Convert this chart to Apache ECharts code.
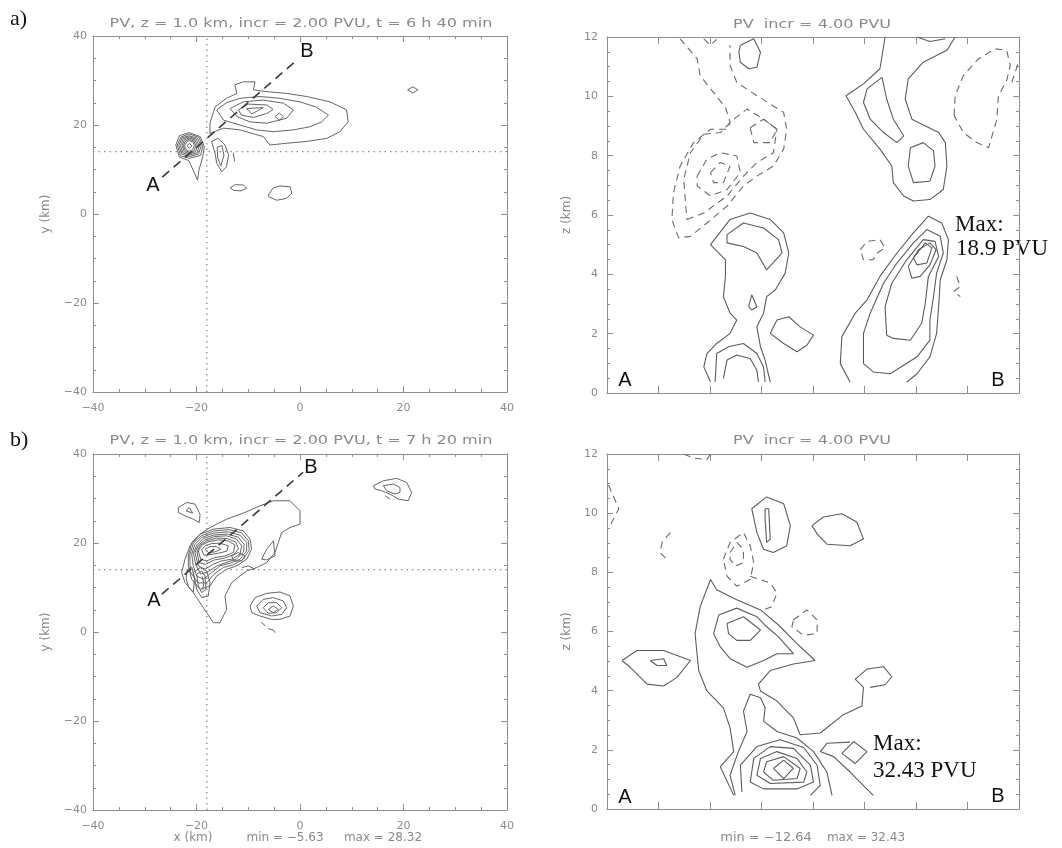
<!DOCTYPE html>
<html>
<head>
<meta charset="utf-8">
<script src="https://cdn.jsdelivr.net/npm/echarts@6/dist/echarts.min.js"></script>
<style>
  html, body { margin: 0; padding: 0; background: #fff; }
  #chart { width: 1062px; height: 848px; }
</style>
</head>
<body>
<div id="chart"></div>
<script>
// ---------- panel texts ----------
const panelTags = ['a)', 'b)'];
const planTitles = ['PV, z = 1.0 km, incr = 2.00 PVU, t = 6 h 40 min',
                    'PV, z = 1.0 km, incr = 2.00 PVU, t = 7 h 20 min'];
const sectionTitle = 'PV  incr = 4.00 PVU';
const maxNotes = [['Max:', '18.9 PVU'], ['Max:', '32.43 PVU']];
const planStats = ['x (km)', 'min = \u22125.63', 'max = 28.32'];
const sectionStats = ['min = \u221212.64', 'max = 32.43'];

// ---------- axis ranges (km) ----------
const planRange = [-40, 40];
const planStep = 20;
const sectionXRange = [0, 8];
const sectionZRange = [0, 12];
const sectionZStep = 2;

// ---------- horizontal sections at z = 1 km: guide lines and cut A-B ----------
const planGuideX = -18;      // dotted vertical
const planGuideY = 14;       // dotted horizontal
const cutA = [[-26.6, 8.3], [-0.4, 34.8]];
const cutB = [[-26.7, 8.5], [0.6, 35.9]];

// ---------- contours, 6 h 40 min, plan view (closed loops) ----------
const planA_loops = [
  [[-17.4,20.4],[-16.4,24.1],[-14.2,26.0],[-12.2,27.1],[-12.6,29.0],[-11.0,29.7],[-8.7,29.7],[-9.0,27.9],[-6.4,27.5],[-2.6,27.1],[1.3,26.4],[5.8,25.2],[9.0,23.4],[9.3,20.7],[7.7,18.5],[5.2,17.0],[1.3,16.3],[-2.6,15.9],[-5.8,15.5],[-7.1,17.4],[-11.6,18.9],[-14.8,19.3],[-17.4,18.1]],
  [[-16.1,23.4],[-14.2,25.0],[-11.6,26.0],[-7.7,26.4],[-3.9,26.0],[0,25.2],[3.2,24.0],[5.5,22.2],[4.2,20.7],[1.9,19.6],[-1.3,18.9],[-5.2,18.5],[-8.4,18.9],[-11.6,20.0],[-14.8,21.1]],
  [[-13.5,23.7],[-11.0,25.2],[-7.1,25.6],[-3.2,24.9],[-1.3,23.4],[-2.6,21.5],[-6.4,20.4],[-9.7,20.7],[-12.2,21.9]],
  [[-11.9,23.4],[-10.0,24.7],[-6.4,24.5],[-5.2,23.5],[-6.4,22.6],[-9.0,21.7],[-11.3,22.2]],
  [[-10.3,23.7],[-7.1,23.9],[-9.3,22.5]],
  [[-4.8,21.9],[-4.0,22.7],[-3.2,21.9],[-4.0,21.1]],
  [[-24.0,15.5],[-23.3,17.6],[-21.4,18.3],[-19.3,17.4],[-18.5,15.2],[-18.8,12.8],[-19.5,10.0],[-19.8,7.6],[-20.5,9.5],[-21.5,12.0],[-23.3,12.8]],
  [[-23.7,15.5],[-23.0,17.3],[-21.4,18.0],[-19.5,17.2],[-18.8,15.2],[-19.2,13.2],[-21.4,12.5],[-23.1,13.1]],
  [[-23.4,15.4],[-22.8,17.1],[-21.4,17.6],[-19.8,17.0],[-19.1,15.3],[-19.6,13.5],[-21.4,12.9],[-22.9,13.5]],
  [[-23.1,15.4],[-22.55,16.9],[-21.4,17.35],[-20.05,16.8],[-19.45,15.3],[-19.9,13.75],[-21.4,13.2],[-22.65,13.75]],
  [[-22.8,15.4],[-22.3,16.7],[-21.4,17.1],[-20.3,16.6],[-19.8,15.3],[-20.2,14.0],[-21.4,13.5],[-22.4,14.0]],
  [[-22.55,15.35],[-22.1,16.45],[-21.4,16.8],[-20.5,16.4],[-20.1,15.3],[-20.45,14.25],[-21.4,13.8],[-22.2,14.25]],
  [[-22.3,15.3],[-21.9,16.2],[-21.4,16.5],[-20.7,16.2],[-20.4,15.3],[-20.7,14.5],[-21.4,14.1],[-22.0,14.5]],
  [[-21.8,15.3],[-21.4,15.9],[-20.9,15.3],[-21.4,14.7]],
  [[-17.1,16.3],[-15.8,17.0],[-14.5,15.5],[-13.8,13.3],[-14.2,10.6],[-15.1,9.5],[-16.1,11.4],[-16.4,13.6]],
  [[-16.0,15.0],[-15.1,15.4],[-14.7,13.2],[-15.3,10.8],[-15.9,12.6]],
  [[-13.5,5.9],[-12.5,6.6],[-10.9,6.5],[-10.3,5.8],[-11.4,5.2],[-12.8,5.3]],
  [[-6.1,4.3],[-5.2,5.8],[-3.9,6.3],[-1.9,6.1],[-1.6,4.7],[-2.6,3.5],[-4.5,3.1],[-6.1,3.9]],
  [[20.8,27.9],[21.8,28.6],[22.8,27.9],[21.8,27.2]]
];
const planA_paths = [
  [[-12.9,13.8],[-12.6,11.8]]
];

// ---------- contours, 7 h 20 min, plan view ----------
const planB_loops = [
  [[-17.39,23.48],[-14.17,25.36],[-10.95,26.71],[-7.73,28.36],[-5.15,29.49],[-1.93,29.49],[0,27.24],[0,24.23],[-1.93,23.48],[-3.54,22.36],[-4.19,20.11],[-4.83,17.85],[-6.44,15.60],[-8.37,14.47],[-10.31,13.72],[-11.59,12.60],[-13.20,11.10],[-14.49,8.09],[-14.17,5.09],[-15.46,2.09],[-16.75,2.09],[-18.04,4.34],[-19.32,6.59],[-20.61,8.84],[-22.22,11.10],[-22.87,13.35],[-22.22,16.35],[-21.26,19.35],[-19.32,21.98]],
  [[-7.41,16.35],[-6.44,18.60],[-5.15,20.48],[-4.83,17.10],[-6.44,16.20]],
  [[-21.58,17.10],[-20.93,20.11],[-19.32,21.98],[-16.75,23.11],[-13.53,23.48],[-10.95,22.73],[-9.66,20.86],[-9.34,18.60],[-10.31,16.35],[-12.24,14.85],[-14.17,14.10],[-16.10,12.60],[-17.39,10.35],[-19.32,9.59],[-20.93,11.85],[-21.58,14.85]],
  [[-21.3,17.3],[-20.6,20.0],[-19.1,21.6],[-16.7,22.7],[-13.7,23.0],[-11.3,22.3],[-10.0,20.5],[-9.8,18.4],[-11.0,16.3],[-12.9,15.1],[-14.8,14.5],[-16.6,13.0],[-18.0,11.1],[-19.7,11.0],[-21.2,13.5]],
  [[-20.93,17.48],[-20.29,19.73],[-19.00,21.23],[-16.75,22.21],[-13.85,22.51],[-11.59,21.76],[-10.31,20.11],[-10.31,18.23],[-11.59,16.35],[-13.53,15.45],[-15.46,14.85],[-17.07,13.35],[-18.68,11.85],[-19.97,12.60],[-20.61,14.85]],
  [[-20.6,17.7],[-19.9,19.6],[-18.7,21.0],[-16.6,21.8],[-14.0,22.0],[-11.9,21.3],[-10.8,19.7],[-10.9,18.0],[-12.3,16.4],[-14.3,15.6],[-16.0,14.9],[-17.7,13.6],[-19.2,13.0],[-20.1,15.0]],
  [[-20.29,17.85],[-19.65,19.50],[-18.36,20.71],[-16.43,21.46],[-14.17,21.61],[-12.24,20.86],[-11.27,19.35],[-11.59,17.48],[-13.20,16.35],[-15.14,15.98],[-16.75,15.23],[-18.36,14.10],[-19.65,14.85]],
  [[-19.9,18.0],[-19.3,19.5],[-18.0,20.5],[-16.1,21.1],[-14.0,21.0],[-12.4,20.2],[-11.9,18.7],[-12.8,17.4],[-14.6,16.6],[-16.5,16.2],[-18.3,15.2],[-19.5,15.6]],
  [[-19.65,18.23],[-19.00,19.50],[-17.71,20.26],[-15.78,20.71],[-13.85,20.48],[-12.56,19.50],[-12.88,17.85],[-14.49,17.10],[-16.43,16.73],[-18.04,15.98],[-19.19,16.35]],
  [[-19.00,18.45],[-18.36,19.35],[-17.07,19.88],[-15.46,19.95],[-13.85,19.35],[-14.17,18.15],[-15.78,17.70],[-17.39,17.40],[-18.55,17.25]],
  [[-18.36,18.60],[-17.39,19.20],[-16.10,19.20],[-15.33,18.60],[-16.43,18.00],[-17.71,17.85]],
  [[-20.61,13.35],[-19.32,14.47],[-18.04,13.72],[-17.39,11.10],[-17.71,8.09],[-19.00,7.72],[-19.97,9.59]],
  [[-19.97,12.97],[-19.00,13.72],[-18.36,12.60],[-18.16,9.59],[-19.00,8.84],[-19.65,10.35]],
  [[-21.8,14.0],[-20.9,14.6],[-20.4,12.0],[-20.6,9.0],[-21.5,10.0],[-22.0,12.0]],
  [[-13.20,17.10],[-11.92,17.85],[-10.63,17.10],[-11.27,15.98],[-12.88,15.98]],
  [[-23.51,27.99],[-21.90,29.11],[-20.29,28.74],[-19.32,26.49],[-19.45,24.61],[-20.61,25.36],[-22.22,26.11],[-23.51,26.86]],
  [[-22.03,27.24],[-21.38,27.99],[-20.74,26.71]],
  [[-9.66,5.84],[-8.70,7.72],[-6.44,8.69],[-3.86,8.99],[-1.93,8.09],[-1.29,5.84],[-1.93,3.59],[-3.86,2.84],[-5.48,2.84],[-7.73,3.59],[-9.34,4.34]],
  [[-8.37,5.84],[-7.09,7.34],[-5.15,7.72],[-3.22,6.97],[-2.58,5.47],[-3.54,3.96],[-5.48,3.59],[-7.73,4.34]],
  [[-7.09,5.47],[-6.12,6.59],[-4.51,6.59],[-3.54,5.47],[-4.51,4.34],[-6.12,4.19]],
  [[-6.12,5.09],[-5.15,5.84],[-4.19,5.09],[-5.15,4.34]],
  [[14.17,32.87],[16.10,33.99],[18.68,34.52],[20.61,33.62],[21.58,31.37],[20.93,29.49],[19.00,29.86],[17.39,30.99],[15.78,31.74],[14.49,32.12]],
  [[16.10,32.87],[18.04,33.24],[19.32,32.49],[19.32,31.37],[18.36,30.99],[16.75,31.74]]
];
const planB_paths = [
  [[-11.27,14.47],[-9.98,14.85],[-8.70,14.10]],
  [[-18.9,12.5],[-18.6,11.0],[-18.8,9.5]],
  [[-7.41,2.24],[-6.76,1.34]],
  [[-6.12,0.74],[-5.15,0.44],[-4.83,-0.17]],
  [[16.43,30.62],[17.39,29.86]]
];

// ---------- contours, 6 h 40 min, vertical section A-B (x: along cut, z: km) ----------
const sectA_solidLoops = [
  [[5.05,10.25],[5.34,10.64],[5.43,9.91],[5.56,9.23],[5.76,8.67],[5.63,8.44],[5.37,8.78],[5.11,9.23],[4.98,9.80]],
  [[5.89,8.27],[6.14,8.44],[6.34,8.16],[6.37,7.65],[6.27,7.14],[5.95,7.09],[5.85,7.65]],
  [[4.98,0.99],[4.98,2.01],[5.11,2.69],[5.37,3.70],[5.63,4.38],[5.95,5.06],[6.21,5.51],[6.47,5.28],[6.53,4.72],[6.40,4.04],[6.34,3.25],[6.27,2.46],[6.27,1.78],[6.02,1.22],[5.50,0.65],[5.17,0.71]],
  [[5.43,1.95],[5.40,2.91],[5.53,3.70],[5.82,4.49],[6.14,5.17],[6.37,5.11],[6.44,4.60],[6.24,3.93],[6.18,3.02],[6.11,2.35],[5.89,1.78],[5.56,1.84]],
  [[5.85,4.27],[6.05,4.83],[6.27,5.06],[6.39,4.83],[6.27,4.32],[6.08,3.93],[5.92,3.87]],
  [[5.95,4.55],[6.18,5.06],[6.31,4.89],[6.21,4.38],[6.02,4.32]],
  [[2.33,5.34],[2.65,5.73],[3.04,5.56],[3.33,5.17],[3.40,4.72],[3.10,4.15],[2.91,4.72],[2.65,4.94],[2.33,5.06]],
  [[2.75,2.91],[2.81,3.31],[2.91,2.91],[2.81,2.80]],
  [[3.17,2.01],[3.30,2.46],[3.53,2.57],[3.75,2.23],[4.01,1.95],[3.88,1.61],[3.69,1.39],[3.43,1.67]],
  [[2.59,11.72],[2.85,11.94],[2.98,11.49],[2.91,10.98],[2.75,10.93],[2.59,11.15],[2.56,11.49]]
];
const sectA_solidPaths = [
  [[5.40,12.0],[5.30,10.93],[4.98,10.42],[4.64,10.02],[4.82,9.46],[4.98,8.89],[5.30,8.22],[5.53,7.65],[5.56,7.09],[5.76,6.64],[5.95,6.47],[6.27,6.52],[6.53,6.86],[6.60,7.65],[6.57,8.44],[6.44,8.78],[5.92,9.23],[5.79,9.91],[5.85,10.59],[6.14,11.15],[6.60,11.55],[6.76,12.0]],
  [[6.02,12.0],[6.27,11.85],[6.57,11.94]],
  [[4.72,0.37],[4.53,0.99],[4.56,1.90],[4.82,2.69],[5.05,3.14],[5.30,3.93],[5.63,4.72],[5.95,5.40],[6.24,5.96],[6.50,5.73],[6.63,5.17],[6.60,4.49],[6.47,3.81],[6.44,2.91],[6.40,2.01],[6.27,1.22],[6.02,0.65],[5.82,0.37]],
  [[2.01,0.37],[1.88,0.88],[1.94,1.33],[2.13,1.67],[2.39,2.01],[2.52,2.46],[2.39,2.69],[2.26,3.25],[2.30,3.93],[2.30,4.49],[2.01,5.00],[2.39,5.85],[2.78,6.07],[3.17,5.85],[3.43,5.40],[3.53,4.72],[3.46,4.04],[3.27,3.48],[3.10,3.25],[3.04,2.69],[2.91,2.23],[2.98,1.56],[3.07,1.11],[3.17,0.37]],
  [[2.10,0.37],[2.13,1.33],[2.36,1.56],[2.65,1.67],[2.91,1.33],[3.04,0.88],[3.07,0.37]],
  [[2.26,0.49],[2.33,1.11],[2.52,1.28],[2.78,1.16],[2.91,0.77],[2.94,0.37]]
];
const sectA_dashLoops = [
  [[6.74,9.35],[6.76,10.02],[6.92,10.70],[7.21,11.26],[7.54,11.60],[7.76,11.55],[7.83,11.04],[7.76,10.53],[7.60,10.02],[7.57,9.23],[7.41,8.27],[7.18,8.44],[6.92,8.78]],
  [[4.92,4.83],[5.05,5.11],[5.30,5.17],[5.40,4.89],[5.24,4.72],[5.17,4.49],[4.98,4.49]],
  [[1.55,5.85],[1.88,6.07],[2.33,6.64],[2.65,7.31],[2.91,7.77],[3.23,8.10],[3.30,8.89],[3.04,9.23],[2.72,9.57],[2.46,9.23],[2.20,8.78],[1.88,8.72],[1.62,8.10],[1.49,7.20]],
  [[1.75,7.31],[1.94,7.88],[2.20,8.10],[2.52,7.99],[2.59,7.43],[2.33,6.86],[2.01,6.64],[1.75,6.98]],
  [[2.01,7.43],[2.20,7.77],[2.39,7.65],[2.26,7.09],[2.07,7.09]],
  [[2.78,8.94],[3.04,9.23],[3.30,8.89],[3.17,8.44],[2.85,8.44]]
];
const sectA_dashPaths = [
  [[1.42,11.94],[1.75,11.26],[1.81,10.70],[2.04,10.19],[2.30,9.63],[2.39,9.12],[2.33,8.89],[2.01,8.89],[1.68,8.44],[1.42,7.65],[1.29,6.75],[1.26,5.85],[1.39,5.23],[1.62,5.28],[1.94,5.73],[2.33,6.30],[2.65,6.98],[2.91,7.31],[3.23,7.65],[3.43,8.22],[3.49,8.89],[3.43,9.46],[3.17,9.74],[2.91,10.02],[2.52,10.47],[2.39,11.04],[2.39,11.72]],
  [[7.86,10.47],[7.99,11.15]],
  [[6.79,3.93],[6.86,3.59],[6.73,3.42],[6.86,3.25]],
  [[1.88,11.94],[2.01,11.72],[2.13,11.92]]
];

// ---------- contours, 7 h 20 min, vertical section A-B ----------
const sectB_solidLoops = [
  [[0.29,5.02],[0.58,5.36],[1.10,5.36],[1.62,5.02],[1.36,4.45],[1.10,4.16],[0.78,4.22],[0.45,4.79]],
  [[0.84,5.02],[1.10,5.08],[1.16,4.85],[0.97,4.85]],
  [[2.07,5.93],[2.17,6.56],[2.52,6.79],[2.91,6.50],[3.10,6.16],[3.33,5.82],[3.62,5.25],[3.30,5.25],[3.04,5.02],[2.72,4.79],[2.39,5.08],[2.20,5.48]],
  [[2.33,6.27],[2.65,6.50],[2.98,6.05],[2.78,5.70],[2.52,5.70],[2.36,5.93]],
  [[2.78,0.91],[2.85,1.71],[3.17,2.11],[3.62,2.05],[3.95,1.48],[4.01,0.91],[3.69,0.68],[3.04,0.68]],
  [[2.91,1.14],[2.98,1.71],[3.30,1.94],[3.69,1.71],[3.88,1.25],[3.82,0.91],[3.17,0.86]],
  [[3.04,1.25],[3.10,1.60],[3.43,1.77],[3.75,1.37],[3.69,1.03],[3.23,0.97]],
  [[3.23,1.37],[3.43,1.65],[3.62,1.37],[3.43,1.03]],
  [[4.56,1.88],[4.79,2.28],[5.05,1.94],[4.82,1.54]],
  [[2.81,10.15],[3.10,10.55],[3.43,10.32],[3.56,9.58],[3.49,8.90],[3.23,8.67],[3.04,8.78],[2.91,9.35]],
  [[3.07,10.15],[3.14,10.15],[3.17,9.12],[3.10,9.01],[3.07,9.80]],
  [[3.98,9.58],[4.20,9.87],[4.56,9.98],[4.85,9.70],[4.98,9.13],[4.72,8.90],[4.27,8.95],[4.08,9.30]]
];
const sectB_solidPaths = [
  [[2.46,0.46],[2.20,1.43],[2.46,1.94],[2.39,2.74],[2.26,3.42],[1.94,3.99],[1.78,4.68],[1.71,5.93],[1.81,6.84],[2.01,7.76],[2.13,7.41],[2.52,7.07],[2.98,6.73],[3.33,6.22],[3.69,5.59],[4.04,5.02],[3.62,4.90],[3.17,4.68],[2.94,4.22],[2.98,3.99],[3.30,3.65],[3.62,3.08],[3.75,2.51],[4.14,2.57],[4.59,3.19],[4.95,3.48],[4.98,4.11],[4.82,4.39],[5.05,4.73],[5.37,4.81],[5.53,4.47],[5.40,4.20],[5.11,4.11]],
  [[4.72,2.26],[4.27,2.22],[4.14,1.94],[4.40,1.77],[4.72,1.25],[5.17,0.46]],
  [[2.49,0.46],[2.39,1.14],[2.55,1.94],[2.72,2.62],[2.65,3.31],[2.78,3.88],[2.98,3.76],[3.07,3.42],[3.04,2.97],[3.30,2.62],[3.69,2.40],[4.01,1.94],[4.27,1.25],[4.37,0.46]],
  [[2.62,0.57],[2.59,1.48],[2.91,2.11],[3.36,2.34],[3.82,2.08],[4.08,1.48],[4.14,0.80],[3.95,0.46]]
];
const sectB_dashLoops = [
  [[2.26,8.44],[2.39,9.01],[2.65,9.35],[2.78,8.90],[2.85,8.33],[2.78,7.76],[2.52,7.53],[2.33,7.87]],
  [[2.39,8.67],[2.52,9.01],[2.65,8.78],[2.65,8.33],[2.49,8.21],[2.39,8.44]],
  [[3.62,6.39],[3.88,6.73],[4.08,6.39],[4.08,5.93],[3.82,5.87],[3.59,6.16]]
];
const sectB_dashPaths = [
  [[2.78,7.87],[3.17,7.64],[3.30,7.30],[3.20,6.84],[3.04,6.73]],
  [[1.23,9.35],[1.07,9.01],[1.03,8.67],[1.16,8.44]],
  [[1.49,12.0],[1.68,11.86],[1.94,11.81],[2.01,12.0]],
  [[0.03,10.95],[0.23,10.15],[0.06,9.58]]
];

// ---------- styling ----------
const FRAME = '#8e8e8e';
const LABEL = '#8a8a8a';
const INK = '#5c5c5c';
const TICK_FONT = 'DejaVu Sans';

// panel boxes (left, top, width, height)
const boxes = [
  { left: 93, top: 36, width: 414, height: 356 },   // a, plan
  { left: 607, top: 37, width: 412, height: 356 },  // a, section
  { left: 93, top: 454, width: 414, height: 356 },  // b, plan
  { left: 607, top: 454, width: 412, height: 355 }  // b, section
];

const minus = v => String(v).replace('-', '\u2212');

function axisPair(g, dim, kind) {
  const isPlan = kind === 'plan';
  const base = {
    gridIndex: g, type: 'value',
    splitLine: { show: false },
    axisLine: { show: true, onZero: false, lineStyle: { color: FRAME, width: 1 } },
    axisTick: { show: true, inside: true, length: 6, lineStyle: { color: FRAME } },
    minorTick: { show: false },
    axisLabel: { show: false }
  };
  let range, step, minorSplit, labels;
  if (dim === 'x') {
    range = isPlan ? planRange : sectionXRange;
    step = isPlan ? planStep : 1;
    minorSplit = isPlan ? 4 : 0;
    labels = isPlan;
  } else {
    range = isPlan ? planRange : sectionZRange;
    step = isPlan ? planStep : sectionZStep;
    minorSplit = 4;
    labels = true;
  }
  const mk = (pos, withLabels) => {
    const a = JSON.parse(JSON.stringify(base));
    a.position = pos; a.min = range[0]; a.max = range[1]; a.interval = step;
    a.axisTick.length = (!isPlan && dim === 'x') ? 7 : 6;
    if (minorSplit) a.minorTick = { show: true, splitNumber: minorSplit, length: 3, lineStyle: { color: FRAME } };
    if (withLabels) {
      a.axisLabel = { show: true, color: LABEL, fontFamily: TICK_FONT, fontSize: 11,
                      margin: dim === 'x' ? 11 : (isPlan ? 6 : 9), formatter: minus };
    }
    return a;
  };
  if (dim === 'x') return [mk('bottom', labels), mk('top', false)];
  return [mk('left', labels), mk('right', false)];
}

const xAxes = [], yAxes = [];
['plan', 'section', 'plan', 'section'].forEach((kind, g) => {
  xAxes.push(...axisPair(g, 'x', kind));
  yAxes.push(...axisPair(g, 'y', kind));
});
// axis names
yAxes[0].name = yAxes[4].name = 'y (km)';
yAxes[2].name = yAxes[6].name = 'z (km)';
[0, 2, 4, 6].forEach(i => {
  yAxes[i].nameLocation = 'middle';
  yAxes[i].nameRotate = 90;
  yAxes[i].nameGap = (i === 0 || i === 4) ? 41 : 34;
  yAxes[i].nameTextStyle = { color: LABEL, fontFamily: TICK_FONT, fontSize: 12 };
});

const series = [];
function addLines(g, lines, closed, dashed, color, width) {
  lines.forEach(pts => {
    const data = closed ? pts.concat([pts[0]]) : pts;
    series.push({
      type: 'line', xAxisIndex: 2 * g, yAxisIndex: 2 * g, data,
      showSymbol: false, symbol: 'none', silent: true, animation: false, clip: true,
      lineStyle: { color: color || INK, width: width || 1, type: dashed || 'solid' }
    });
  });
}
const DASH = [7, 5];
const DOTS = [1.5, 4];

// plan views
[[planA_loops, planA_paths, cutA], [planB_loops, planB_paths, cutB]].forEach(([loops, paths, cut], i) => {
  const g = i * 2;
  addLines(g, [[[planGuideX, planRange[0]], [planGuideX, planRange[1]]],
               [[planRange[0], planGuideY], [planRange[1], planGuideY]]], false, DOTS, '#8c8c8c', 1.3);
  addLines(g, loops, true, null, '#666', 1);
  addLines(g, paths, false, null, '#666', 1);
  addLines(g, [cut], false, [9, 6], '#3a3a3a', 1.6);
});
// vertical sections
addLines(1, sectA_solidLoops, true, null, INK, 1.1);
addLines(1, sectA_solidPaths, false, null, INK, 1.1);
addLines(1, sectA_dashLoops, true, DASH, '#6a6a6a', 1.1);
addLines(1, sectA_dashPaths, false, DASH, '#6a6a6a', 1.1);
addLines(3, sectB_solidLoops, true, null, INK, 1.1);
addLines(3, sectB_solidPaths, false, null, INK, 1.1);
addLines(3, sectB_dashLoops, true, DASH, '#6a6a6a', 1.1);
addLines(3, sectB_dashPaths, false, DASH, '#6a6a6a', 1.1);

// ---------- texts ----------
const graphic = [];
const txt = (x, y, text, style, align, vAlign, extra) => graphic.push(Object.assign({
  type: 'text', x, y, silent: true,
  style: Object.assign({ text, textAlign: align || 'center', textVerticalAlign: vAlign || 'middle' }, style)
}, extra || {}));

const tagStyle = { font: '22px "Liberation Serif"', fill: '#111' };
txt(10, 19, panelTags[0], tagStyle, 'left');
txt(10, 440, panelTags[1], tagStyle, 'left');

// titles: wide, thin lettering
const titleStyle = { font: '12px "DejaVu Sans"', fill: '#8a8a8a' };
const wide = { scaleX: 1.34 };
txt(301, 24, planTitles[0], titleStyle, 'center', 'middle', wide);
txt(301, 441, planTitles[1], titleStyle, 'center', 'middle', wide);
txt(812, 25, sectionTitle, titleStyle, 'center', 'middle', wide);
txt(812, 441, sectionTitle, titleStyle, 'center', 'middle', wide);

const abStyle = { font: '20px "Liberation Sans"', fill: '#111' };
txt(153, 185, 'A', abStyle); txt(307, 51, 'B', abStyle);
txt(154, 600, 'A', abStyle); txt(311, 467, 'B', abStyle);
txt(625, 380, 'A', abStyle); txt(998, 380, 'B', abStyle);
txt(625, 797, 'A', abStyle); txt(998, 796, 'B', abStyle);

const maxStyle = { font: '23px "Liberation Serif"', fill: '#111' };
txt(955, 225, maxNotes[0][0], maxStyle, 'left');
txt(956, 249, maxNotes[0][1], maxStyle, 'left');
txt(873, 744, maxNotes[1][0], maxStyle, 'left');
txt(873, 771, maxNotes[1][1], maxStyle, 'left');

const statStyle = { font: '12px "DejaVu Sans"', fill: '#8a8a8a' };
txt(193, 838, planStats[0], statStyle);
txt(285, 838, planStats[1], statStyle);
txt(383, 838, planStats[2], statStyle);
txt(766, 838, sectionStats[0], statStyle, 'center', 'middle', { scaleX: 1.08 });
txt(866, 838, sectionStats[1], statStyle);

const chart = echarts.init(document.getElementById('chart'), null, { renderer: 'canvas' });
chart.setOption({
  backgroundColor: '#fff',
  animation: false,
  grid: boxes.map(b => Object.assign({ containLabel: false, show: false }, b)),
  xAxis: xAxes,
  yAxis: yAxes,
  series,
  graphic
});
</script>
</body>
</html>
